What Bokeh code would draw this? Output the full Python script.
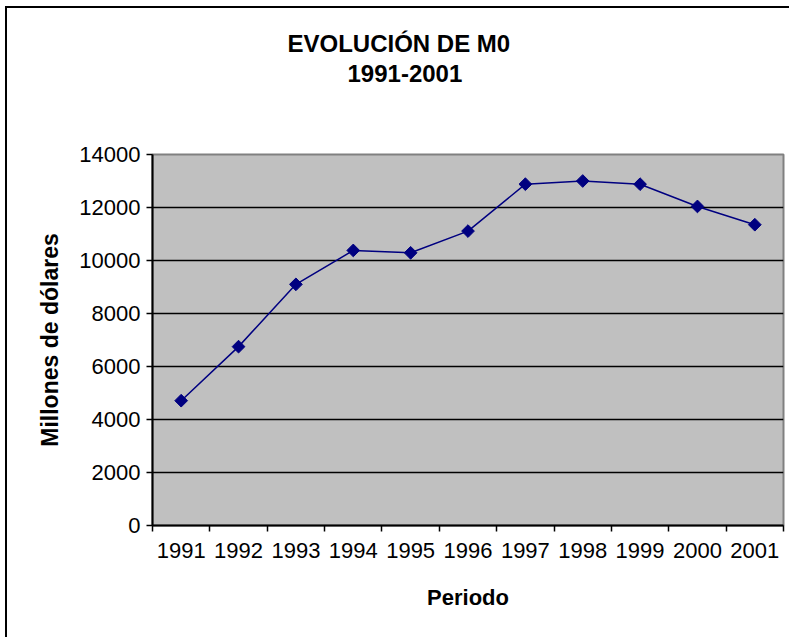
from bokeh.plotting import figure
from bokeh.models import FixedTicker, Title, Range1d
from bokeh.embed import file_html
from bokeh.resources import INLINE

years = ["1991", "1992", "1993", "1994", "1995", "1996", "1997", "1998", "1999", "2000", "2001"]
m0 = [4710, 6750, 9100, 10380, 10290, 11110, 12880, 13000, 12880, 12040, 11350]
y_ticks = [0, 2000, 4000, 6000, 8000, 10000, 12000, 14000]
title_lines = ["EVOLUCIÓN DE M0", "1991-2001"]
x_label = "Periodo"
y_label = "Millones de dólares"

FONT = "Liberation Sans"

pos = [i + 0.5 for i in range(len(years))]

p = figure(width=784, height=631, output_backend="svg", toolbar_location=None, title=None,
           x_range=Range1d(0, len(years)), y_range=Range1d(y_ticks[0], y_ticks[-1]),
           min_border_left=145, min_border_right=8, min_border_top=146, min_border_bottom=114)
p.styles = {"margin-left": "5px", "margin-top": "6px",
            "border-left": "2px solid black", "border-top": "2px solid black"}

p.background_fill_color = "#C0C0C0"
p.border_fill_color = "white"
p.outline_line_color = "#808080"
p.outline_line_width = 2

# grid
p.xgrid.visible = False
p.ygrid.ticker = FixedTicker(ticks=y_ticks[1:-1])
p.ygrid.grid_line_color = "black"
p.ygrid.grid_line_width = 1.5

# x axis
xa = p.xaxis[0]
xa.ticker = FixedTicker(ticks=pos, minor_ticks=list(range(len(years) + 1)))
xa.major_label_overrides = {pos[i]: years[i] for i in range(len(years))}
xa.major_tick_out = 0
xa.major_tick_in = 0
xa.minor_tick_out = 6
xa.minor_tick_in = 0
xa.minor_tick_line_color = "black"
xa.minor_tick_line_width = 1.5
xa.axis_line_color = "black"
xa.axis_line_width = 2
xa.major_label_text_font = FONT
xa.major_label_text_font_size = "22px"
xa.major_label_text_color = "black"
xa.major_label_standoff = 11
xa.axis_label = x_label
xa.axis_label_text_font = FONT
xa.axis_label_text_font_style = "bold"
xa.axis_label_text_font_size = "22px"
xa.axis_label_text_color = "black"
xa.axis_label_standoff = 24

# y axis
ya = p.yaxis[0]
ya.ticker = FixedTicker(ticks=y_ticks)
ya.major_tick_out = 6
ya.major_tick_in = 0
ya.major_tick_line_color = "black"
ya.major_tick_line_width = 1.5
ya.minor_tick_out = 0
ya.minor_tick_in = 0
ya.axis_line_color = "black"
ya.axis_line_width = 2
ya.major_label_text_font = FONT
ya.major_label_text_font_size = "22px"
ya.major_label_text_color = "black"
ya.major_label_standoff = 6
ya.axis_label = y_label
ya.axis_label_text_font = FONT
ya.axis_label_text_font_style = "bold"
ya.axis_label_text_font_size = "23px"
ya.axis_label_text_color = "black"
ya.axis_label_standoff = 13

# data
p.line(pos, m0, line_color="#000080", line_width=1.5)
p.scatter(pos, m0, marker="square", angle=0.785398, size=9,
          fill_color="#000080", line_color="#000080")

# titles (first added sits closest to the frame); a blank spacer keeps them high
p.add_layout(Title(text=" ", standoff=36.5, text_font=FONT, text_font_style="bold",
                   text_font_size="24px"), "above")
p.add_layout(Title(text=title_lines[1], align="left", offset=195, standoff=13,
                   text_font=FONT, text_font_style="bold", text_font_size="24px",
                   text_color="black"), "above")
p.add_layout(Title(text=title_lines[0], align="left", offset=135, standoff=0,
                   text_font=FONT, text_font_style="bold", text_font_size="24px",
                   text_color="black"), "above")

open("out.html", "w").write(file_html(p, INLINE))
